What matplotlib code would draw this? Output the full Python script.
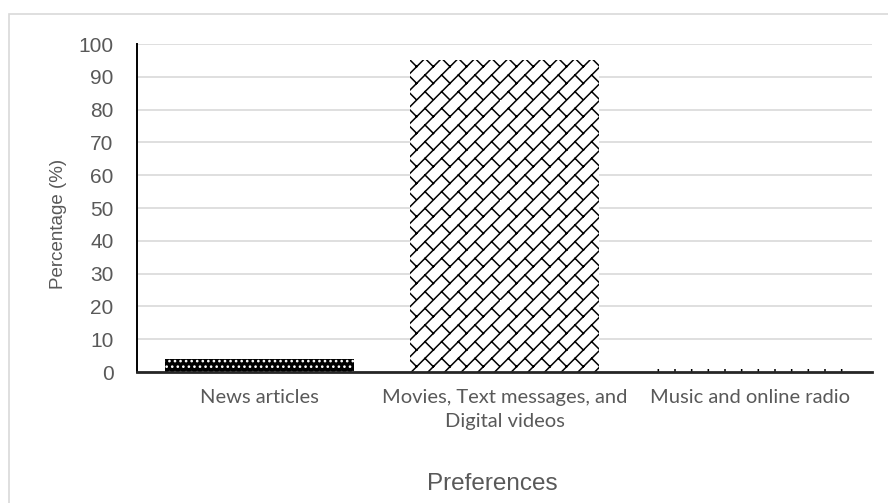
import matplotlib
matplotlib.use("Agg")
import matplotlib.pyplot as plt
from matplotlib import hatch as mhatch
from matplotlib.patches import Rectangle

# ---- data -------------------------------------------------------------
categories = ["News articles",
              "Movies, Text messages, and\nDigital videos",
              "Music and online radio"]
percentages = [4, 95, 1]
y_ticks = list(range(0, 101, 10))
x_title = "Preferences"
y_title = "Percentage (%)"


# ---- a "diagonal brick" fill pattern, bound to the '/' hatch ----------
class DiagonalBrick(mhatch.HatchPatternBase):
    def __init__(self, hatch, density):
        self.num_tiles = hatch.count('/') * density
        self.num_vertices = 4 * self.num_tiles ** 2

    def set_vertices_and_codes(self, vertices, codes):
        n = self.num_tiles
        s = 1.0 / n
        k = 0
        for i in range(n):
            for j in range(n):
                x0, y0 = i * s, j * s
                vertices[k] = (x0, y0)
                vertices[k + 1] = (x0 + s, y0 + s)
                vertices[k + 2] = (x0 + 0.5 * s, y0 + 0.5 * s)
                vertices[k + 3] = (x0 + s, y0)
                codes[k] = mhatch.Path.MOVETO
                codes[k + 1] = mhatch.Path.LINETO
                codes[k + 2] = mhatch.Path.MOVETO
                codes[k + 3] = mhatch.Path.LINETO
                k += 4


mhatch._hatch_types = [DiagonalBrick if t is mhatch.NorthEastHatch else t
                       for t in mhatch._hatch_types]

plt.rcParams["font.family"] = ["Liberation Sans", "DejaVu Sans"]
plt.rcParams["hatch.linewidth"] = 1.1

W, H = 888, 503
fig = plt.figure(figsize=(W / 100, H / 100), dpi=100)

# light chart-area frame
fig.patches.append(Rectangle((9 / W, -0.1), 1.2, 1.1 - 14 / H,
                             transform=fig.transFigure, fill=False,
                             edgecolor="#d9d9d9", linewidth=1.2))

ax = fig.add_axes([137 / W, 1 - 372 / H, (872 - 137) / W, (372 - 44) / H])

x = range(len(categories))
styles = [
    dict(facecolor="black", edgecolor="white", hatch="..."),
    dict(facecolor="white", edgecolor="black", hatch="/"),
    dict(facecolor="white", edgecolor="black", hatch="|"),
]
for xi, val, st in zip(x, percentages, styles):
    ax.bar(xi, val, width=0.77, linewidth=0, zorder=3, **st)

ax.set_xlim(-0.5, len(categories) - 0.5)
ax.set_ylim(0, 100)
ax.set_yticks(y_ticks)
ax.set_xticks(list(x))
ax.set_xticklabels(categories, family=["Lato", "DejaVu Sans"], fontsize=14.5,
                   color="#595959", linespacing=1.5)
ax.tick_params(axis="x", length=0, pad=12)
ax.tick_params(axis="y", length=0, pad=17, labelsize=15, labelcolor="#595959")

ax.grid(axis="y", color="#d9d9d9", linewidth=1.2, zorder=0)
ax.set_axisbelow(True)
for side in ("top", "right"):
    ax.spines[side].set_visible(False)
ax.spines["left"].set_color("black")
ax.spines["left"].set_linewidth(1.4)
ax.spines["bottom"].set_color("#262626")
ax.spines["bottom"].set_linewidth(2.0)
ax.spines["bottom"].set_zorder(4)

ax.set_ylabel(y_title, fontsize=13.5, color="#595959")
ax.yaxis.set_label_coords(-0.095, 0.45)
ax.set_xlabel(x_title, fontsize=17.5, color="#595959")
ax.xaxis.set_label_coords(0.483, -0.309)

fig.savefig("out.png", dpi=100)
